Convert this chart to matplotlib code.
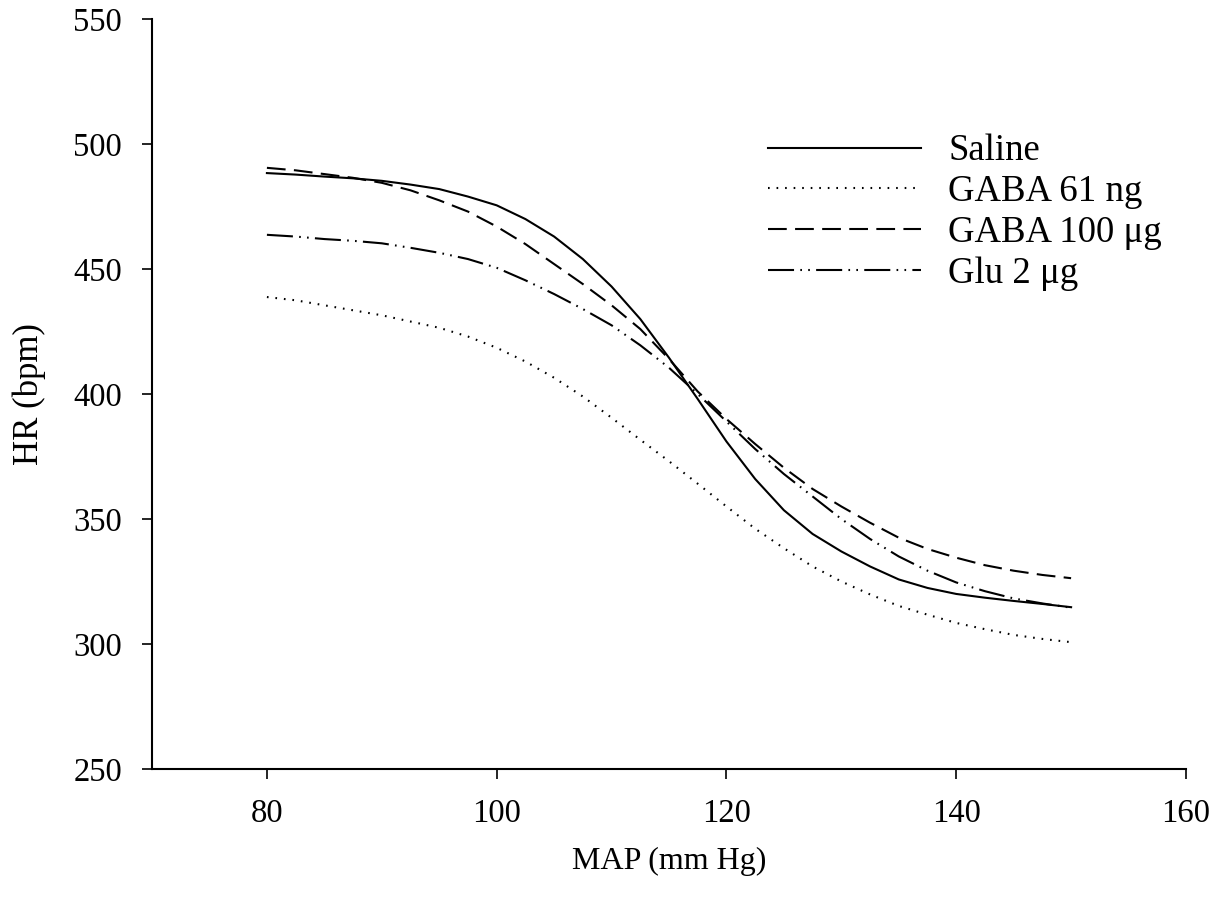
import matplotlib
matplotlib.use("Agg")
import matplotlib.pyplot as plt

# MAP values (mm Hg) the curves were read at
map_mmhg = [80, 82.5, 85, 87.5, 90, 92.5, 95, 97.5, 100, 102.5, 105, 107.5, 110,
            112.5, 115, 117.5, 120, 122.5, 125, 127.5, 130, 132.5, 135, 137.5,
            140, 142.5, 145, 147.5, 150]

# HR (bpm) for each group
saline = [488.4, 487.8, 487.0, 486.3, 485.3, 483.8, 482.0, 479.0, 475.5, 470.0,
          463.0, 454.0, 443.0, 430.0, 414.5, 398.0, 381.0, 366.0, 353.5, 344.0,
          337.0, 331.0, 325.8, 322.4, 320.0, 318.5, 317.2, 316.0, 314.7]
gaba_61ng = [438.8, 437.5, 435.5, 433.5, 431.5, 429.0, 426.5, 423.0, 418.5, 413.0,
             406.5, 399.0, 390.5, 381.7, 373.1, 364.1, 355.0, 346.1, 338.3, 331.0,
             325.0, 319.8, 315.2, 311.7, 308.4, 305.9, 303.6, 302.0, 300.7]
gaba_100ug = [490.5, 489.5, 488.0, 486.5, 484.5, 481.5, 477.5, 473.0, 467.0, 460.0,
              452.0, 444.0, 435.5, 426.0, 414.0, 401.0, 390.0, 380.0, 370.5, 362.0,
              355.0, 348.5, 342.5, 338.0, 334.5, 331.5, 329.3, 327.6, 326.3]
glu_2ug = [463.7, 463.0, 462.0, 461.3, 460.3, 458.5, 456.5, 454.0, 450.5, 445.5,
           440.0, 434.0, 427.5, 419.5, 410.5, 400.0, 389.0, 378.0, 368.0, 359.0,
           350.0, 342.0, 335.0, 329.3, 324.6, 321.1, 318.2, 316.2, 314.5]

labels = ["Saline", "GABA 61 ng", "GABA 100 \u03bcg", "Glu 2 \u03bcg"]

plt.rcParams['font.family'] = ['Liberation Serif', 'DejaVu Serif']

fig = plt.figure(figsize=(12.29, 9.11), dpi=100)
ax = fig.add_axes([0.1237, 0.156, 0.8413, 0.823])

lw = 1.5
ax.plot(map_mmhg, saline, color='black', lw=lw, linestyle='-', label=labels[0])
ax.plot(map_mmhg, gaba_61ng, color='black', lw=lw, linestyle=(0, (0.8, 3.3)), label=labels[1])
ax.plot(map_mmhg, gaba_100ug, color='black', lw=lw, linestyle=(0, (9, 4)), label=labels[2])
ax.plot(map_mmhg, glu_2ug, color='black', lw=lw,
        linestyle=(0, (12.5, 3, 0.8, 3, 0.8, 3)), label=labels[3])

ax.set_xlim(70, 160)
ax.set_ylim(250, 550)
ax.set_xticks([80, 100, 120, 140, 160])
ax.set_yticks([250, 300, 350, 400, 450, 500, 550])

for side in ['top', 'right']:
    ax.spines[side].set_visible(False)
for side in ['left', 'bottom']:
    ax.spines[side].set_linewidth(1.5)

ax.tick_params(direction='out', length=7.5, width=1.2, labelsize=23.5, pad=14)
ax.set_xlabel("MAP (mm Hg)", fontsize=23, labelpad=13)
ax.set_ylabel("HR (bpm)", fontsize=25, labelpad=20)

ax.legend(loc='upper left', bbox_to_anchor=(768 / 1229, 1 - 134 / 911),
          bbox_transform=fig.transFigure, frameon=False, fontsize=26.5,
          handlelength=4.15, handletextpad=0.75, labelspacing=0.17, borderpad=0,
          borderaxespad=0)

fig.savefig("out.png", dpi=100)
